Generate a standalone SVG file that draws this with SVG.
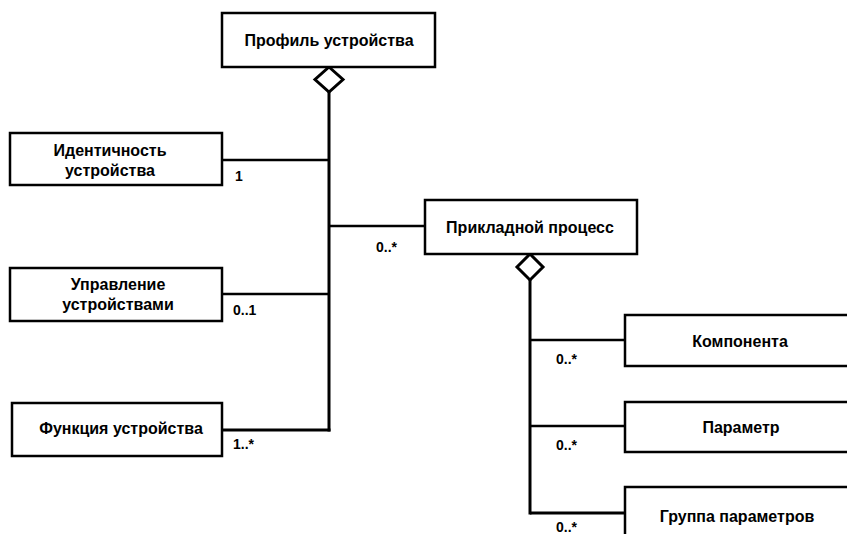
<svg xmlns="http://www.w3.org/2000/svg" width="847" height="534" viewBox="0 0 847 534">
<style>
.box{fill:#fff;stroke:#000;stroke-width:2.5}
.t{font-family:"Liberation Sans",Arial,sans-serif;font-weight:bold;font-size:16px;fill:#000;text-anchor:middle}
.m{font-family:"Liberation Sans",Arial,sans-serif;font-weight:bold;font-size:14px;fill:#000}
.c{fill:none;stroke:#000;stroke-width:2.5}
.cv{fill:none;stroke:#000;stroke-width:3}
.dia{fill:#fff;stroke:#000;stroke-width:3}
</style>
<rect width="847" height="534" fill="#fff"/>
<g id="connectors">
<line class="cv" x1="329" y1="92" x2="329" y2="431.5"/>
<line class="c" x1="222" y1="160" x2="329" y2="160"/>
<line class="c" x1="329" y1="226" x2="425" y2="226"/>
<line class="c" x1="222" y1="294" x2="329" y2="294"/>
<line class="cv" x1="222" y1="430" x2="330.5" y2="430"/>
<line class="cv" x1="530" y1="280" x2="530" y2="514.5"/>
<line class="c" x1="530" y1="340" x2="625" y2="340"/>
<line class="c" x1="530" y1="426" x2="625" y2="426"/>
<line class="cv" x1="530" y1="513" x2="625" y2="513"/>
<polygon class="dia" points="329,67 343,79.5 329,92 315,79.5"/>
<polygon class="dia" points="530,254 543,267 530,280 517,267"/>
<text class="m" x="235" y="181">1</text>
<text class="m" x="376" y="252">0..*</text>
<text class="m" x="233" y="315">0..1</text>
<text class="m" x="233" y="449">1..*</text>
<text class="m" x="556" y="364">0..*</text>
<text class="m" x="556" y="450">0..*</text>
<text class="m" x="556" y="532">0..*</text>
</g>
<g id="profile">
<rect class="box" x="222" y="13" width="213" height="54"/>
<text class="t" x="329" y="46">Профиль устройства</text>
</g>
<g id="identity">
<rect class="box" x="10" y="133" width="212" height="52"/>
<text class="t" x="110" y="156">Идентичность</text>
<text class="t" x="110" y="176">устройства</text>
</g>
<g id="management">
<rect class="box" x="10" y="268" width="212" height="53"/>
<text class="t" x="118" y="290">Управление</text>
<text class="t" x="118" y="310">устройствами</text>
</g>
<g id="function">
<rect class="box" x="12" y="403" width="210" height="53"/>
<text class="t" x="121" y="434">Функция устройства</text>
</g>
<g id="app-process">
<rect class="box" x="425" y="200" width="212" height="54"/>
<text class="t" x="530" y="233">Прикладной процесс</text>
</g>
<g id="component">
<rect class="box" x="625" y="315" width="235" height="51"/>
<text class="t" x="740" y="347">Компонента</text>
</g>
<g id="parameter">
<rect class="box" x="625" y="402" width="235" height="50"/>
<text class="t" x="741" y="433">Параметр</text>
</g>
<g id="param-group">
<rect class="box" x="625" y="487" width="235" height="60"/>
<text class="t" x="737" y="522">Группа параметров</text>
</g>
</svg>
